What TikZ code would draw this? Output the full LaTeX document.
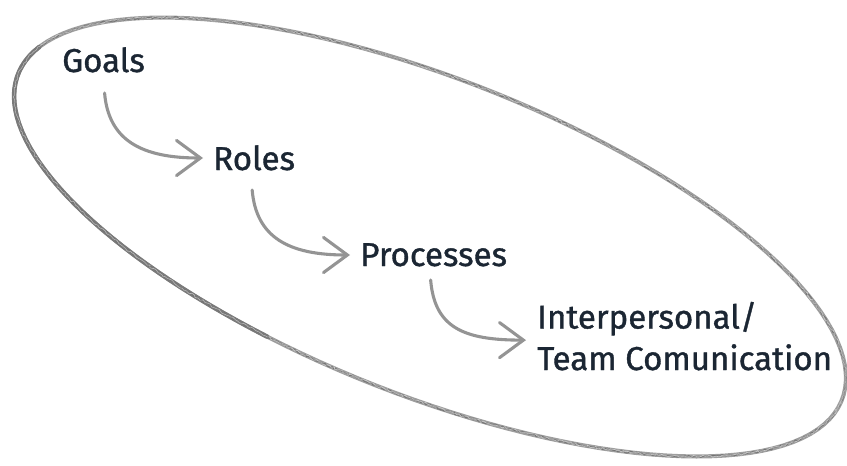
\documentclass[tikz,border=0pt]{standalone}
\usepackage{fontspec}
\newfontfamily\stepfont{Fira Sans}[FakeBold=1.1]
\usetikzlibrary{arrows.meta, calc, decorations.pathmorphing}
\definecolor{ink}{HTML}{1B2633}
\tikzset{lbl/.style={anchor=base west, inner sep=0pt, text=ink, align=left,
        font=\stepfont\fontsize{23.5}{29.5}\selectfont},
    pencil/.style={draw=black!38, line width=2.9pt, line cap=round, line join=round},
    grain/.style={draw=black!55, line width=0.6pt, line cap=round, decorate,
        decoration={random steps, segment length=1.6pt, amplitude=0.8pt}},
    flow/.style={draw=black!42, line width=2.2pt, line cap=round,
        -{Straight Barb[length=17pt, width=25pt, line cap=round]}}}

\begin{document}
\begin{tikzpicture}[x=0.025cm, y=-0.025cm]
                                \useasboundingbox (0, 0) rectangle (847, 466);
                                % pencil loop round the four steps
                                \draw[pencil] plot[domain=0:366, samples=140, variable=\t]
                                    ({430+443*cos(\t)*cos(21.6)-158*sin(\t)*sin(21.6)},
                                     {237+443*cos(\t)*sin(21.6)+158*sin(\t)*cos(21.6)});
                                \draw[pencil, draw=black!52, line width=3.2pt] plot[domain=105:192, samples=40, variable=\t]
                                    ({430+443*cos(\t)*cos(21.6)-158*sin(\t)*sin(21.6)},
                                     {237+443*cos(\t)*sin(21.6)+158*sin(\t)*cos(21.6)});
                                \draw[grain] plot[domain=0:366, samples=140, variable=\t]
                                    ({430+443*cos(\t)*cos(21.6)-158*sin(\t)*sin(21.6)},
                                     {237+443*cos(\t)*sin(21.6)+158*sin(\t)*cos(21.6)});
                                \draw[grain, draw=white, opacity=0.5, line width=0.4pt] plot[domain=0:366, samples=140, variable=\t]
                                    ({430+443*cos(\t)*cos(21.6)-158*sin(\t)*sin(21.6)},
                                     {237+443*cos(\t)*sin(21.6)+158*sin(\t)*cos(21.6)});
                                % steps
                                \node[lbl] (goals) at (62, 72) {Goals};
                                \node[lbl] (roles) at (213, 170) {Roles};
                                \node[lbl] (procs) at (360, 266) {Processes};
                                \node[lbl] (comm) at (537, 370) {Interpersonal/\\Team Comunication};
                                % arrows
                                \draw[flow] ($(goals.base)+(1, 21)$) .. controls +(4, 47) and +(-62, 0) .. ($(roles.base west)+(-10, -12)$);
                                \draw[flow] ($(roles.base)+(-2, 20)$) .. controls +(4, 47) and +(-62, 0) .. ($(procs.base west)+(-10, -11)$);
                                \draw[flow] ($(procs.base)+(-3, 14)$) .. controls +(4, 48) and +(-62, 0) .. ($(comm.west)+(-11, 4)$);
                            \end{tikzpicture}
\end{document}
